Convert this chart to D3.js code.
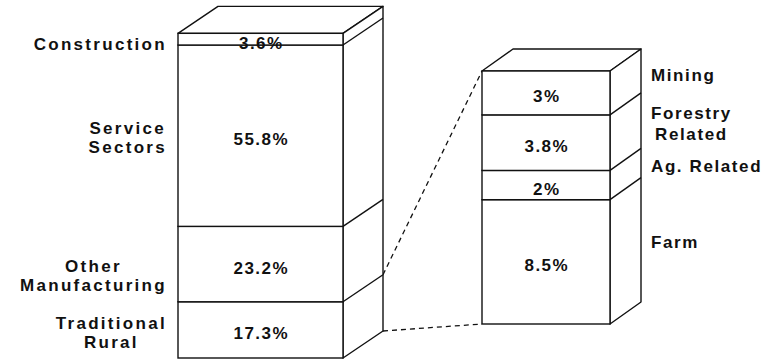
<!DOCTYPE html>
<html>
<head>
<meta charset="utf-8">
<script src="https://cdn.jsdelivr.net/npm/d3@7"></script>
<style>
  html, body { margin: 0; padding: 0; background: #fff; }
  svg { display: block; }
  text { font-family: "Liberation Sans", Arial, sans-serif; font-weight: bold; fill: #111; }
</style>
</head>
<body>
<svg id="chart" width="773" height="360"></svg>
<script>
// Employment shares: whole economy (left column) and the traditional rural breakdown (right column)
const leftCategories = ["Traditional Rural", "Other Manufacturing", "Service Sectors", "Construction"];
const leftValues = [17.3, 23.2, 55.8, 3.6];
const leftLabelLines = [["Traditional", "Rural"], ["Other", "Manufacturing"], ["Service", "Sectors"], ["Construction"]];

const rightCategories = ["Farm", "Ag. Related", "Forestry Related", "Mining"];
const rightValues = [8.5, 2, 3.8, 3];
const rightLabelLines = [["Farm"], ["Ag. Related"], ["Forestry", "Related"], ["Mining"]];

const svg = d3.select("#chart");
const ink = "#111";

// stack values bottom-up
function stack(values) {
  let acc = 0;
  return values.map(v => { const s = { y0: acc, y1: acc + v, v }; acc += v; return s; });
}

// draws an extruded (3-D) stacked column; returns its geometry
function drawColumn(values, x, y, dx, dy) {
  const segs = stack(values);
  const total = d3.sum(values);
  const g = svg.append("g");
  const xL = x.range()[0], xR = x.range()[1];
  const yTop = y(total), yBot = y(0);

  // top face
  g.append("polygon")
    .attr("points", [[xL, yTop], [xL + dx, yTop + dy], [xR + dx, yTop + dy], [xR, yTop]].join(" "))
    .attr("fill", "#fff").attr("stroke", ink).attr("stroke-width", 1.4).attr("stroke-linejoin", "round");
  // side face
  g.append("polygon")
    .attr("points", [[xR, yTop], [xR + dx, yTop + dy], [xR + dx, yBot + dy], [xR, yBot]].join(" "))
    .attr("fill", "#fff").attr("stroke", ink).attr("stroke-width", 1.4).attr("stroke-linejoin", "round");
  // segment edges on side face
  g.selectAll("line.side").data(segs.slice(1)).join("line")
    .attr("x1", xR).attr("y1", d => y(d.y0))
    .attr("x2", xR + dx).attr("y2", d => y(d.y0) + dy)
    .attr("stroke", ink).attr("stroke-width", 1.4);
  // front segments
  g.selectAll("rect.seg").data(segs).join("rect")
    .attr("x", xL).attr("width", xR - xL)
    .attr("y", d => y(d.y1)).attr("height", d => y(d.y0) - y(d.y1))
    .attr("fill", "#fff").attr("stroke", ink).attr("stroke-width", 1.4);
  // value labels
  g.selectAll("text.val").data(segs).join("text")
    .attr("x", (xL + xR) / 2 + 0.8)
    .attr("y", d => (y(d.y0) + y(d.y1)) / 2 + 4)
    .attr("text-anchor", "middle").attr("dominant-baseline", "central")
    .attr("font-size", 17)
    .attr("letter-spacing", 1.5)
    .text(d => d.v + "%");
  return { segs, xL, xR, yTop, yBot };
}

// multi-line category labels, lines centred on each other
function drawLabel(lines, anchorX, side, cy, spacing) {
  const g = svg.append("g");
  const n = lines.length;
  const t = g.selectAll("text").data(lines).join("text")
    .attr("x", 0)
    .attr("y", (d, i) => cy + (i - (n - 1) / 2) * spacing)
    .attr("text-anchor", "middle").attr("dominant-baseline", "central")
    .attr("font-size", 17)
    .attr("letter-spacing", side === "left" ? 2.3 : 1.6)
    .text(d => d);
  const w = d3.max(t.nodes(), n => n.getBBox().width);
  const cx = side === "left" ? anchorX - w / 2 : anchorX + w / 2;
  t.attr("x", cx);
}

// left column: whole economy
const yLeft = d3.scaleLinear().domain([0, 100]).range([358, 33]);
const xLeft = d3.scaleLinear().range([178, 343]);
const dL = { dx: 40, dy: -27 };

// right column: traditional rural detail
const yRight = d3.scaleLinear().domain([0, d3.sum(rightValues)]).range([324, 71]);
const xRight = d3.scaleLinear().range([482, 610]);
const dR = { dx: 31, dy: -22 };

// dashed connectors from the traditional rural slice to the detail column
const ruralTop = yLeft(leftValues[0]);
const connectors = [
  [[xLeft.range()[1] + dL.dx, ruralTop + dL.dy], [xRight.range()[0], yRight(d3.sum(rightValues))]],
  [[xLeft.range()[1] + dL.dx, yLeft(0) + dL.dy], [xRight.range()[0], yRight(0)]]
];
svg.selectAll("line.conn").data(connectors).join("line")
  .attr("x1", d => d[0][0]).attr("y1", d => d[0][1])
  .attr("x2", d => d[1][0]).attr("y2", d => d[1][1])
  .attr("stroke", ink).attr("stroke-width", 1.3).attr("stroke-dasharray", "5,4");

const L = drawColumn(leftValues, xLeft, yLeft, dL.dx, dL.dy);
const R = drawColumn(rightValues, xRight, yRight, dR.dx, dR.dy);

// label nudges (px) for legibility
const leftNudge = [3, 12, 2, 5];
L.segs.forEach((s, i) => {
  drawLabel(leftLabelLines[i], 167, "left", (yLeft(s.y0) + yLeft(s.y1)) / 2 + leftNudge[i], 19);
});
const rightNudge = [3, 3, 3, 5];
R.segs.forEach((s, i) => {
  drawLabel(rightLabelLines[i], 651, "right", (yRight(s.y0) + yRight(s.y1)) / 2 + dR.dy + rightNudge[i], 21);
});
</script>
</body>
</html>
